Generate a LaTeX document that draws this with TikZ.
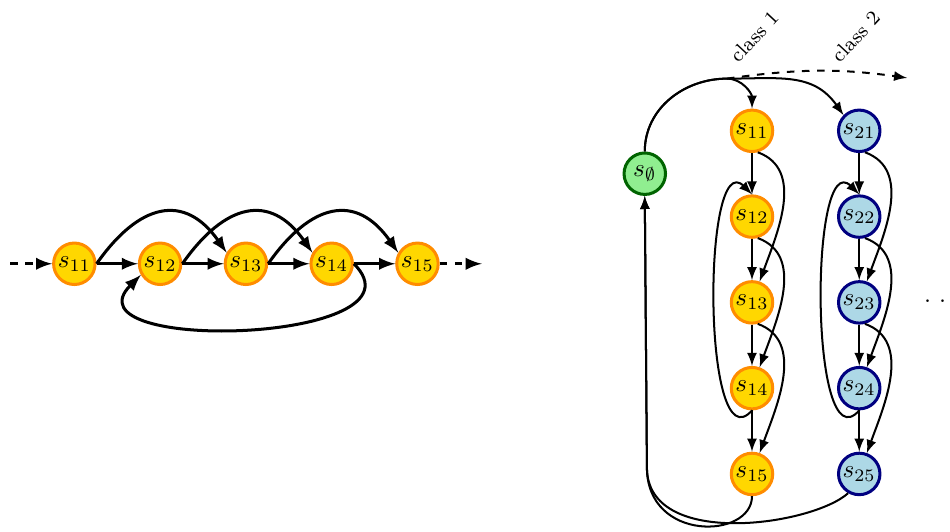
\documentclass[tikz,border=0pt]{standalone}
\usepackage{amssymb}
\usepackage{amsmath}
\usepackage{pgf,tikz}
\usepackage{xcolor}
\usetikzlibrary{arrows}
\definecolor{goldfill}{RGB}{255,215,0}
\definecolor{goldline}{RGB}{255,140,0}
\definecolor{bluefill}{RGB}{173,216,230}
\definecolor{blueline}{RGB}{0,0,128}
\definecolor{greenfill}{RGB}{144,238,144}
\definecolor{greenline}{RGB}{0,100,0}

\begin{document}
\begin{tikzpicture}
		\tikzset{vertex/.style = {shape=circle, draw, very thick, inner sep=0pt, minimum size=0.58cm}}
		\tikzset{gold/.style = {vertex, draw=goldline, fill=goldfill}}
		\tikzset{blue/.style = {vertex, draw=blueline, fill=bluefill}}
		\tikzset{green/.style = {vertex, draw=greenline, fill=greenfill}}
		\tikzset{edge/.style = {-latex, very thick}}
		\tikzset{redge/.style = {-latex, thick}}

		\useasboundingbox (0,0) rectangle (13.29,7.44);

		% chain of class 1
		\coordinate (In) at (0.14,3.75);
		\node[gold] (L_1) at (1.04,3.75) {$s_{11}$};
		\node[gold] (L_2) at (2.24,3.75) {$s_{12}$};
		\node[gold] (L_3) at (3.44,3.75) {$s_{13}$};
		\node[gold] (L_4) at (4.64,3.75) {$s_{14}$};
		\node[gold] (L_5) at (5.84,3.75) {$s_{15}$};
		\coordinate (Out) at (6.74,3.75);

		\draw[edge, dashed] (In) -- (L_1);
		\draw[edge] (L_1) -- (L_2);
		\draw[edge] (L_2) -- (L_3);
		\draw[edge] (L_3) -- (L_4);
		\draw[edge] (L_4) -- (L_5);
		\draw[edge, dashed] (L_5) -- (Out);

		\draw[edge] (L_1.east) to[out=55, in=125, looseness=1.45] (L_3.150);
		\draw[edge] (L_2.east) to[out=55, in=125, looseness=1.45] (L_4.150);
		\draw[edge] (L_3.east) to[out=55, in=125, looseness=1.45] (L_5.150);
		\draw[edge] (L_4.east) to[out=-45, in=-135, looseness=1.35] (L_2.-150);

		% all classes
		\node[green] (E) at (9.02,5.01) {$s_{\emptyset}$};

		\node[gold] (P_1) at (10.52,5.61) {$s_{11}$};
		\node[gold] (P_2) at (10.52,4.41) {$s_{12}$};
		\node[gold] (P_3) at (10.52,3.21) {$s_{13}$};
		\node[gold] (P_4) at (10.52,2.01) {$s_{14}$};
		\node[gold] (P_5) at (10.52,0.81) {$s_{15}$};

		\node[blue] (Q_1) at (12.02,5.61) {$s_{21}$};
		\node[blue] (Q_2) at (12.02,4.41) {$s_{22}$};
		\node[blue] (Q_3) at (12.02,3.21) {$s_{23}$};
		\node[blue] (Q_4) at (12.02,2.01) {$s_{24}$};
		\node[blue] (Q_5) at (12.02,0.81) {$s_{25}$};

		\node[rotate=47, font=\footnotesize] (K_1) at (10.55,6.93) {class 1};
		\node[rotate=47, font=\footnotesize] (K_2) at (11.97,6.93) {class 2};
		\node[anchor=west, inner sep=0pt] (Dots) at (12.92,3.22) {.\kern3.2pt.\kern3.2pt.};

		\coordinate (Fork) at (10.17,6.34);
		\coordinate (More) at (12.69,6.35);
		\coordinate (Low) at (9.05,0.9);

		\draw[redge] (E.north) to[out=90, in=180] (Fork) to[out=0, in=90] (P_1.north);
		\draw[redge] (E.north) to[out=90, in=180] (Fork) to[out=0, in=125, looseness=1.1] (Q_1.135);
		\draw[redge, dashed] (Fork) to[out=8, in=172] (More);

		\draw[redge] (P_1) -- (P_2);
		\draw[redge] (P_2) -- (P_3);
		\draw[redge] (P_3) -- (P_4);
		\draw[redge] (P_4) -- (P_5);
		\draw[redge] (P_1.-75) to[out=-20, in=70] (P_3.70);
		\draw[redge] (P_2.-75) to[out=-20, in=70] (P_4.70);
		\draw[redge] (P_3.-75) to[out=-20, in=70] (P_5.70);
		\draw[redge] (P_4.south) .. controls +(-0.7,-0.8) and +(-0.7,0.7) .. (P_2.north);

		\draw[redge] (Q_1) -- (Q_2);
		\draw[redge] (Q_2) -- (Q_3);
		\draw[redge] (Q_3) -- (Q_4);
		\draw[redge] (Q_4) -- (Q_5);
		\draw[redge] (Q_1.-75) to[out=-20, in=70] (Q_3.70);
		\draw[redge] (Q_2.-75) to[out=-20, in=70] (Q_4.70);
		\draw[redge] (Q_3.-75) to[out=-20, in=70] (Q_5.70);
		\draw[redge] (Q_4.south) .. controls +(-0.7,-0.8) and +(-0.7,0.7) .. (Q_2.north);

		\draw[redge] (P_5.south) .. controls +(0,-0.6) and +(0,-1.05) .. (Low) -- (E.south);
		\draw[redge] (Q_5.-120) .. controls +(-0.5,-0.45) and +(0,-1.15) .. (Low) -- (E.south);

	\end{tikzpicture}
\end{document}
